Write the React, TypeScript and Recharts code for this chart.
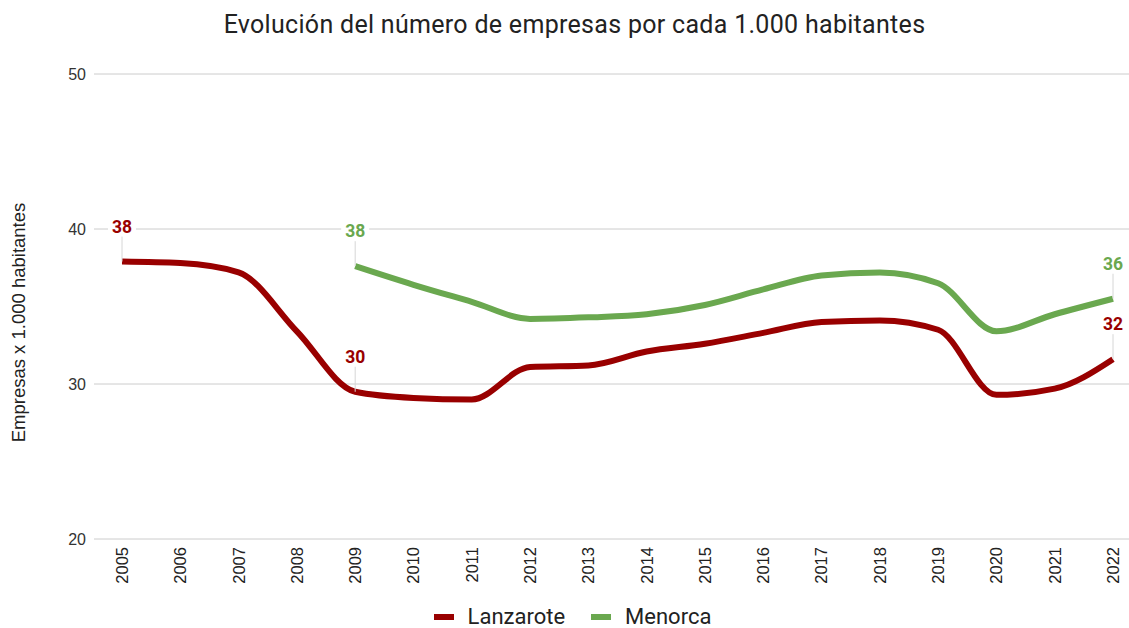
import React from 'react';
import { LineChart, Line, XAxis, YAxis, CartesianGrid, Legend, LabelList } from 'recharts';

const years = ['2005', '2006', '2007', '2008', '2009', '2010', '2011', '2012', '2013', '2014', '2015', '2016', '2017', '2018', '2019', '2020', '2021', '2022'];
const lanzarote = [37.9, 37.8, 37.2, 33.4, 29.5, 29.1, 29.0, 31.1, 31.2, 32.1, 32.6, 33.3, 34.0, 34.1, 33.5, 29.3, 29.7, 31.6];
const menorca = [null, null, null, null, 37.6, 36.4, 35.3, 34.2, 34.3, 34.5, 35.1, 36.1, 37.0, 37.2, 36.5, 33.4, 34.5, 35.5];
const lanzaroteLabelYears = ['2005', '2009', '2022'];
const menorcaLabelYears = ['2009', '2022'];
const yTicks = [20, 30, 40, 50];

const RED = '#990000';
const GREEN = '#6aa84f';
const FONT = 'Roboto, "Noto Sans", sans-serif';
const AXIS_FONT = '"Liberation Sans", Arial, sans-serif';

const data = years.map((year, i) => ({ year, Lanzarote: lanzarote[i], Menorca: menorca[i] }));

const makeLabel = (labelYears: string[], color: string) => (props: any) => {
  const { x, y, value, index } = props;
  if (value == null || !labelYears.includes(years[index])) return null;
  return (
    <g>
      <line x1={x} y1={y} x2={x} y2={y - 25} stroke="#d6d6d6" strokeWidth={1} />
      <rect x={x - 14} y={y - 44} width={28} height={18} fill="#fff" />
      <text x={x} y={y - 29} textAnchor="middle" fill={color} fontSize={17.5} fontWeight="bold" fontFamily={FONT}>
        {Math.round(value)}
      </text>
    </g>
  );
};

const XTick = (props: any) => {
  const { x, payload } = props;
  const y0 = 547;
  return (
    <text x={x} y={y0} transform={`rotate(-90, ${x}, ${y0})`} textAnchor="end" dy="0.36em" fill="#222" fontSize={16.5} fontFamily={AXIS_FONT}>
      {payload.value}
    </text>
  );
};

const YLabel = (props: any) => {
  const { viewBox } = props;
  const x = 18;
  const y = viewBox.y + viewBox.height / 2 + 16;
  return (
    <text x={x} y={y} transform={`rotate(-90, ${x}, ${y})`} textAnchor="middle" dy="0.36em" fill="#222" fontSize={18.5} fontFamily={AXIS_FONT}>
      Empresas x 1.000 habitantes
    </text>
  );
};

const LegendContent = () => {
  const items = [
    { name: 'Lanzarote', color: RED },
    { name: 'Menorca', color: GREEN },
  ];
  return (
    <div style={{ height: 29, paddingTop: 6, paddingLeft: 16, boxSizing: 'border-box', display: 'flex', justifyContent: 'center', alignItems: 'center', fontFamily: FONT, fontSize: 22, color: '#222' }}>
      {items.map((it) => (
        <div key={it.name} style={{ display: 'flex', alignItems: 'center', margin: '0 13px' }}>
          <div style={{ width: 20, height: 6, background: it.color, marginRight: 14 }} />
          <span>{it.name}</span>
        </div>
      ))}
    </div>
  );
};

export default function App() {
  return (
    <div style={{ position: 'absolute', top: 0, left: 0, width: 1129, height: 628, background: '#fff', fontFamily: FONT }}>
      <div style={{ position: 'absolute', top: 10, left: 0, width: 1149, textAlign: 'center', fontSize: 25, letterSpacing: 0.3, color: '#222' }}>
        Evolución del número de empresas por cada 1.000 habitantes
      </div>
      <LineChart width={1129} height={628} data={data} margin={{ top: 74, right: 0, left: 0, bottom: 0 }}>
        <CartesianGrid horizontal vertical={false} stroke="#cccccc" />
        <XAxis
          dataKey="year"
          interval={0}
          axisLine={false}
          tickLine={false}
          height={60}
          padding={{ left: 28, right: 16 }}
          tick={<XTick />}
        />
        <YAxis
          domain={[20, 50]}
          ticks={yTicks}
          width={94}
          axisLine={false}
          tickLine={false}
          tickMargin={2}
          tick={{ fill: '#333', fontSize: 16, fontFamily: AXIS_FONT }}
          label={<YLabel />}
        />
        <Legend verticalAlign="bottom" height={29} content={<LegendContent />} />
        <Line type="monotone" dataKey="Lanzarote" stroke={RED} strokeWidth={6} dot={false} isAnimationActive={false}>
          <LabelList dataKey="Lanzarote" content={makeLabel(lanzaroteLabelYears, RED)} />
        </Line>
        <Line type="monotone" dataKey="Menorca" stroke={GREEN} strokeWidth={6} dot={false} isAnimationActive={false}>
          <LabelList dataKey="Menorca" content={makeLabel(menorcaLabelYears, GREEN)} />
        </Line>
      </LineChart>
    </div>
  );
}
